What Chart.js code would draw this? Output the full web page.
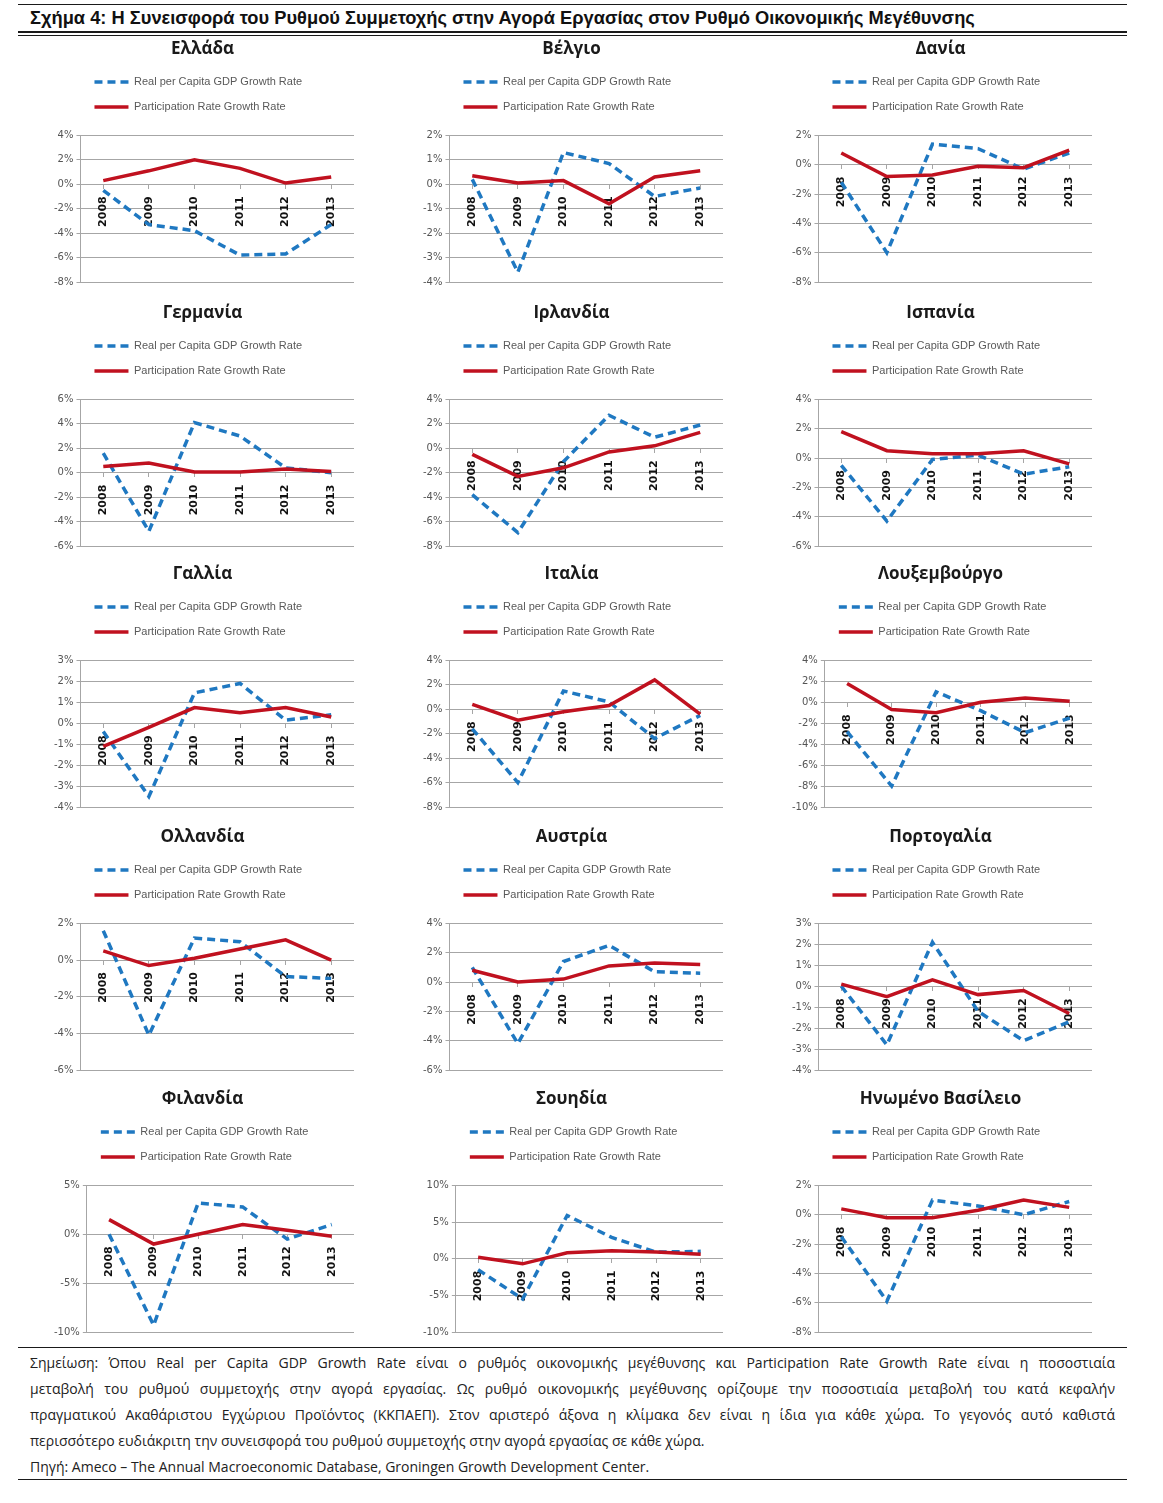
<!DOCTYPE html>
<html>
<head>
<meta charset="utf-8">
<script src="https://cdn.jsdelivr.net/npm/chart.js@4.4.1/dist/chart.umd.min.js"></script>
<style>
  body { margin: 0; background: #fff; }
  #page { position: relative; width: 1163px; height: 1503px; overflow: hidden; font-family: "Open Sans", sans-serif; }
  .rule { position: absolute; left: 18px; width: 1109px; background: #1a1a1a; }
  #title { position: absolute; left: 30px; top: 7px; font: bold 18.3px "Liberation Sans", Arial, sans-serif; color: #111; white-space: nowrap; }
  .panel { position: absolute; }
  .note { position: absolute; left: 30px; width: 1085px; font-size: 14px; color: #222; text-align: justify; text-align-last: justify; line-height: 18px; }
  .note.last { text-align-last: left; }
</style>
</head>
<body>
<div id="page">
  <div class="rule" style="top:4px;height:1px"></div>
  <div id="title">Σχήμα 4: Η Συνεισφορά του Ρυθμού Συμμετοχής στην Αγορά Εργασίας στον Ρυθμό Οικονομικής Μεγέθυνσης</div>
  <div class="rule" style="top:31px;height:2px"></div>
  <div class="rule" style="top:35px;height:1px"></div>

  <div class="rule" style="top:1347px;height:1px"></div>
  <div class="note" style="top:1354px">Σημείωση: Όπου Real per Capita GDP Growth Rate είναι ο ρυθμός οικονομικής μεγέθυνσης και Participation Rate Growth Rate είναι η ποσοστιαία</div>
  <div class="note" style="top:1380px">μεταβολή του ρυθμού συμμετοχής στην αγορά εργασίας. Ως ρυθμό οικονομικής μεγέθυνσης ορίζουμε την ποσοστιαία μεταβολή του κατά κεφαλήν</div>
  <div class="note" style="top:1406px">πραγματικού Ακαθάριστου Εγχώριου Προϊόντος (ΚΚΠΑΕΠ). Στον αριστερό άξονα η κλίμακα δεν είναι η ίδια για κάθε χώρα. Το γεγονός αυτό καθιστά</div>
  <div class="note last" style="top:1432px">περισσότερο ευδιάκριτη την συνεισφορά του ρυθμού συμμετοχής στην αγορά εργασίας σε κάθε χώρα.</div>
  <div class="note last" style="top:1458px">Πηγή: Ameco – The Annual Macroeconomic Database, Groningen Growth Development Center.</div>
  <div class="rule" style="top:1479px;height:1px"></div>
</div>

<script>
// years on the category axis
const years = ['2008', '2009', '2010', '2011', '2012', '2013'];

const countries = ['Ελλάδα', 'Βέλγιο', 'Δανία', 'Γερμανία', 'Ιρλανδία', 'Ισπανία',
  'Γαλλία', 'Ιταλία', 'Λουξεμβούργο', 'Ολλανδία', 'Αυστρία', 'Πορτογαλία',
  'Φιλανδία', 'Σουηδία', 'Ηνωμένο Βασίλειο'];

const seriesNames = ['Real per Capita GDP Growth Rate', 'Participation Rate Growth Rate'];

// Real per capita GDP growth (%)
const grGdp = [-0.5, -3.3, -3.8, -5.8, -5.7, -3.3];
const beGdp = [0.2, -3.6, 1.3, 0.85, -0.5, -0.15];
const dkGdp = [-1.2, -6.0, 1.4, 1.1, -0.3, 0.8];
const deGdp = [1.6, -4.8, 4.1, 3.0, 0.4, 0.0];
const ieGdp = [-3.8, -6.9, -1.1, 2.7, 0.9, 1.9];
const esGdp = [-0.5, -4.3, -0.1, 0.2, -1.1, -0.6];
const frGdp = [-0.4, -3.5, 1.45, 1.9, 0.15, 0.4];
const itGdp = [-1.6, -6.0, 1.5, 0.6, -2.4, -0.5];
const luGdp = [-2.8, -8.0, 1.0, -0.8, -2.9, -1.5];
const nlGdp = [1.6, -4.1, 1.2, 1.0, -0.9, -1.0];
const atGdp = [1.0, -4.2, 1.4, 2.5, 0.7, 0.6];
const ptGdp = [0.0, -2.8, 2.1, -1.2, -2.6, -1.7];
const fiGdp = [0.0, -9.3, 3.2, 2.8, -0.5, 1.0];
const seGdp = [-1.5, -5.5, 5.9, 2.9, 0.9, 1.0];
const ukGdp = [-1.5, -5.9, 1.0, 0.6, 0.0, 0.9];

// Participation rate growth (%)
const grPart = [0.3, 1.1, 2.0, 1.3, 0.1, 0.6];
const bePart = [0.35, 0.05, 0.15, -0.8, 0.3, 0.55];
const dkPart = [0.8, -0.8, -0.7, -0.1, -0.2, 1.0];
const dePart = [0.5, 0.8, 0.05, 0.05, 0.3, 0.1];
const iePart = [-0.5, -2.3, -1.6, -0.3, 0.2, 1.3];
const esPart = [1.8, 0.5, 0.3, 0.3, 0.5, -0.4];
const frPart = [-1.1, -0.2, 0.75, 0.5, 0.75, 0.3];
const itPart = [0.4, -0.9, -0.2, 0.3, 2.4, -0.4];
const luPart = [1.8, -0.7, -1.0, 0.0, 0.4, 0.1];
const nlPart = [0.5, -0.3, 0.1, 0.6, 1.1, 0.0];
const atPart = [0.8, 0.0, 0.2, 1.1, 1.3, 1.2];
const ptPart = [0.1, -0.5, 0.3, -0.4, -0.2, -1.3];
const fiPart = [1.5, -1.0, 0.0, 1.0, 0.4, -0.2];
const sePart = [0.2, -0.7, 0.8, 1.1, 0.9, 0.6];
const ukPart = [0.4, -0.2, -0.2, 0.3, 1.0, 0.5];

// left axis scale of each panel
const yMin  = [-8, -4, -8, -6, -8, -6, -4, -8, -10, -6, -6, -4, -10, -10, -8];
const yMax  = [4, 2, 2, 6, 4, 4, 3, 4, 4, 2, 4, 3, 5, 10, 2];
const yStep = [2, 1, 2, 2, 2, 2, 1, 2, 2, 2, 2, 1, 5, 5, 2];

const gdpSeries = [grGdp, beGdp, dkGdp, deGdp, ieGdp, esGdp, frGdp, itGdp, luGdp, nlGdp, atGdp, ptGdp, fiGdp, seGdp, ukGdp];
const partSeries = [grPart, bePart, dkPart, dePart, iePart, esPart, frPart, itPart, luPart, nlPart, atPart, ptPart, fiPart, sePart, ukPart];

// panel placement
const colLeft = [51, 420, 789];
const rowTop = [39, 303, 564, 827, 1089];
const panelW = 303;
const panelH = 252;

const blue = '#1f78c1';
const red = '#c0111f';
const gridGray = '#a6a6a6';

// legend keeps the dataset's dash, not the point's style
function legendLabels(chart) {
  const items = Chart.defaults.plugins.legend.labels.generateLabels(chart);
  items.forEach(it => {
    const ds = chart.data.datasets[it.datasetIndex];
    it.lineDash = ds.borderDash || [];
    it.lineWidth = ds.borderWidth;
    it.strokeStyle = ds.borderColor;
    it.lineCap = 'butt';
  });
  return items;
}

const page = document.getElementById('page');

countries.forEach((name, i) => {
  const div = document.createElement('div');
  div.className = 'panel';
  div.style.left = colLeft[i % 3] + 'px';
  div.style.top = rowTop[Math.floor(i / 3)] + 'px';
  const canvas = document.createElement('canvas');
  canvas.width = panelW;
  canvas.height = panelH;
  div.appendChild(canvas);
  page.appendChild(div);

  new Chart(canvas.getContext('2d'), {
    type: 'line',
    data: {
      labels: years,
      datasets: [{
        label: seriesNames[0],
        data: gdpSeries[i],
        borderColor: blue,
        backgroundColor: blue,
        borderWidth: 3.5,
        borderDash: [8, 5],
        pointRadius: 0,
        tension: 0,
        order: 1
      }, {
        label: seriesNames[1],
        data: partSeries[i],
        borderColor: red,
        backgroundColor: red,
        borderWidth: 3.5,
        pointRadius: 0,
        tension: 0,
        order: 0
      }]
    },
    options: {
      responsive: false,
      animation: false,
      devicePixelRatio: 1,
      layout: { padding: 0 },
      plugins: {
        title: {
          display: true,
          text: name,
          color: '#1a1a1a',
          font: { family: '"Open Sans", sans-serif', size: 17, weight: 'bold', lineHeight: 1.2 },
          padding: { top: 0, bottom: 3 }
        },
        // empty subtitle under the legend, used as a gap above the plot
        subtitle: {
          display: true,
          text: '',
          weight: 500,
          font: { size: 1, lineHeight: 1 },
          padding: { top: 12, bottom: 0 }
        },
        legend: {
          position: 'top',
          align: 'start',
          fullSize: false,
          labels: {
            usePointStyle: true,
            pointStyle: 'line',
            pointStyleWidth: 34,
            padding: 14,
            color: '#595959',
            font: { family: '"Liberation Sans", sans-serif', size: 11 },
            generateLabels: legendLabels,
            sort: (a, b) => a.datasetIndex - b.datasetIndex
          }
        },
        tooltip: { enabled: false }
      },
      scales: {
        x: {
          axis: 'x',
          type: 'category',
          position: { y: 0 },
          offset: true,
          grid: { drawOnChartArea: false, drawTicks: true, tickLength: 4, color: gridGray },
          border: { color: gridGray },
          ticks: {
            autoSkip: false,
            minRotation: 90,
            maxRotation: 90,
            padding: 8,
            color: '#111',
            font: { family: '"DejaVu Sans", sans-serif', size: 11, weight: 'bold' }
          }
        },
        y: {
          min: yMin[i],
          max: yMax[i],
          grid: { color: gridGray, tickLength: 4 },
          border: { color: gridGray },
          ticks: {
            stepSize: yStep[i],
            padding: 3,
            color: '#555',
            font: { family: '"DejaVu Sans", sans-serif', size: 10 },
            callback: v => v + '%'
          }
        }
      }
    }
  });
});
</script>
</body>
</html>
